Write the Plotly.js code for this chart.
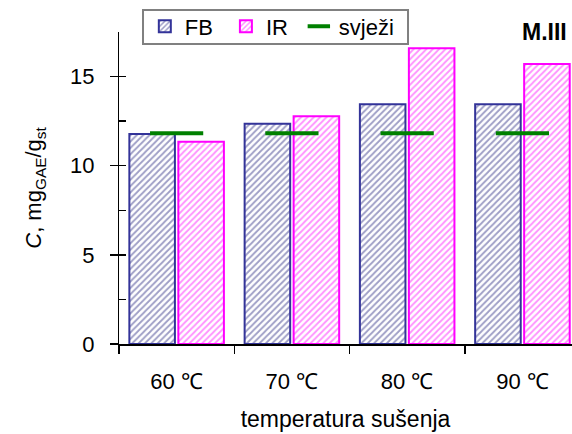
<!DOCTYPE html>
<html>
<head>
<meta charset="utf-8">
<script src="https://cdn.plot.ly/plotly-3.0.1.min.js"></script>
<style>body{margin:0;padding:0;background:#fff}#chart{width:572px;height:434px}</style>
</head>
<body>
<div id="chart"></div>
<script>
const categories = ["60 ℃", "70 ℃", "80 ℃", "90 ℃"];
const fbValues = [11.78, 12.35, 13.45, 13.45];
const irValues = [11.34, 12.78, 16.59, 15.71];
const svjeziValues = [11.82, 11.82, 11.82, 11.82];
const yTickVals = [0, 5, 10, 15];
const yMinorVals = [0, 2.5, 5, 7.5, 10, 12.5, 15, 17.5];

const FONT = "Liberation Sans, Arial, sans-serif";

const traces = [
  {
    type: "bar", name: "FB", x: categories, y: fbValues, legend: "legend",
    marker: {
      color: "#ffffff",
      line: {color: "#333399", width: 2},
      pattern: {shape: "/", fgcolor: "#3c3c8c", bgcolor: "#ffffff", size: 4.5, solidity: 0.4, fillmode: "overlay"}
    }
  },
  {
    type: "bar", name: "IR", x: categories, y: irValues, legend: "legend2",
    marker: {
      color: "#ffffff",
      line: {color: "#ff00ff", width: 2},
      pattern: {shape: "/", fgcolor: "#ff22ff", bgcolor: "#ffffff", size: 4.5, solidity: 0.4, fillmode: "overlay"}
    }
  },
  {
    type: "scatter", mode: "markers", name: "svježi", x: categories, y: svjeziValues, legend: "legend3",
    marker: {symbol: "line-ew", size: 38, color: "#008000", line: {color: "#008000", width: 4}}
  },
  // empty helper traces so that the overlay axes (minor ticks, labels) are drawn
  {type: "scatter", mode: "markers", x: [], y: [], yaxis: "y2", showlegend: false, hoverinfo: "skip"},
  {type: "scatter", mode: "markers", x: [], y: [], yaxis: "y3", showlegend: false, hoverinfo: "skip"}
];

function legendAt(x) {
  return {
    orientation: "h", x: x, y: 1.085, xanchor: "left", yanchor: "top",
    bgcolor: "rgba(0,0,0,0)", borderwidth: 0,
    font: {family: FONT, size: 22, color: "#000"}
  };
}

const layout = {
  width: 572, height: 434,
  margin: {l: 119, r: 0, t: 32, b: 90},
  paper_bgcolor: "#ffffff", plot_bgcolor: "#ffffff",
  font: {family: FONT, color: "#000000", size: 21},
  barmode: "group", bargap: 0.15, bargroupgap: 0.07,
  showlegend: true,
  legend: legendAt(0.057),
  legend2: legendAt(0.236),
  legend3: legendAt(0.397),
  shapes: [
    {type: "rect", xref: "paper", yref: "paper", x0: 0.053, x1: 0.638, y0: 0.9615, y1: 1.0705,
     line: {color: "#808080", width: 2}, fillcolor: "#ffffff", layer: "above"}
  ],
  xaxis: {
    type: "category", range: [-0.5, 3.43],
    showline: true, linecolor: "#000", linewidth: 1.5,
    ticks: "outside", tickson: "boundaries", ticklen: 8, tickcolor: "#000", tickwidth: 1.5,
    ticklabelstandoff: 17,
    tickfont: {family: FONT, size: 22},
    showgrid: false, zeroline: false,
    title: {text: "temperatura sušenja", font: {family: FONT, size: 23}, standoff: 18}
  },
  yaxis: {
    range: [0, 17.5], tickvals: yTickVals, showticklabels: false,
    showline: true, linecolor: "#000", linewidth: 1.5,
    ticks: "outside", ticklen: 8, tickcolor: "#000", tickwidth: 1.5,
    showgrid: false, zeroline: false
  },
  yaxis2: {
    overlaying: "y", anchor: "x", side: "left",
    range: [0, 17.5], tickvals: yMinorVals, showticklabels: false,
    ticks: "inside", ticklen: 7, tickcolor: "#000", tickwidth: 1.5,
    showline: false, showgrid: false, zeroline: false
  },
  yaxis3: {
    overlaying: "y", anchor: "x", side: "left",
    range: [0, 17.5], tickvals: yTickVals, ticktext: yTickVals.map(String),
    ticks: "outside", ticklen: 19, tickcolor: "rgba(0,0,0,0)",
    tickfont: {family: FONT, size: 22},
    showline: false, showgrid: false, zeroline: false,
    title: {text: "<i>C</i>, mg<sub>GAE</sub>/g<sub>st</sub>", font: {family: FONT, size: 22}, standoff: 22}
  },
  annotations: [
    {text: "<b>M.III</b>", xref: "paper", yref: "paper", x: 0.993, y: 1.0, xanchor: "right", yanchor: "middle",
     showarrow: false, font: {family: FONT, size: 23, color: "#000"}}
  ]
};

Plotly.newPlot("chart", traces, layout, {displayModeBar: false, staticPlot: true});
</script>
</body>
</html>
